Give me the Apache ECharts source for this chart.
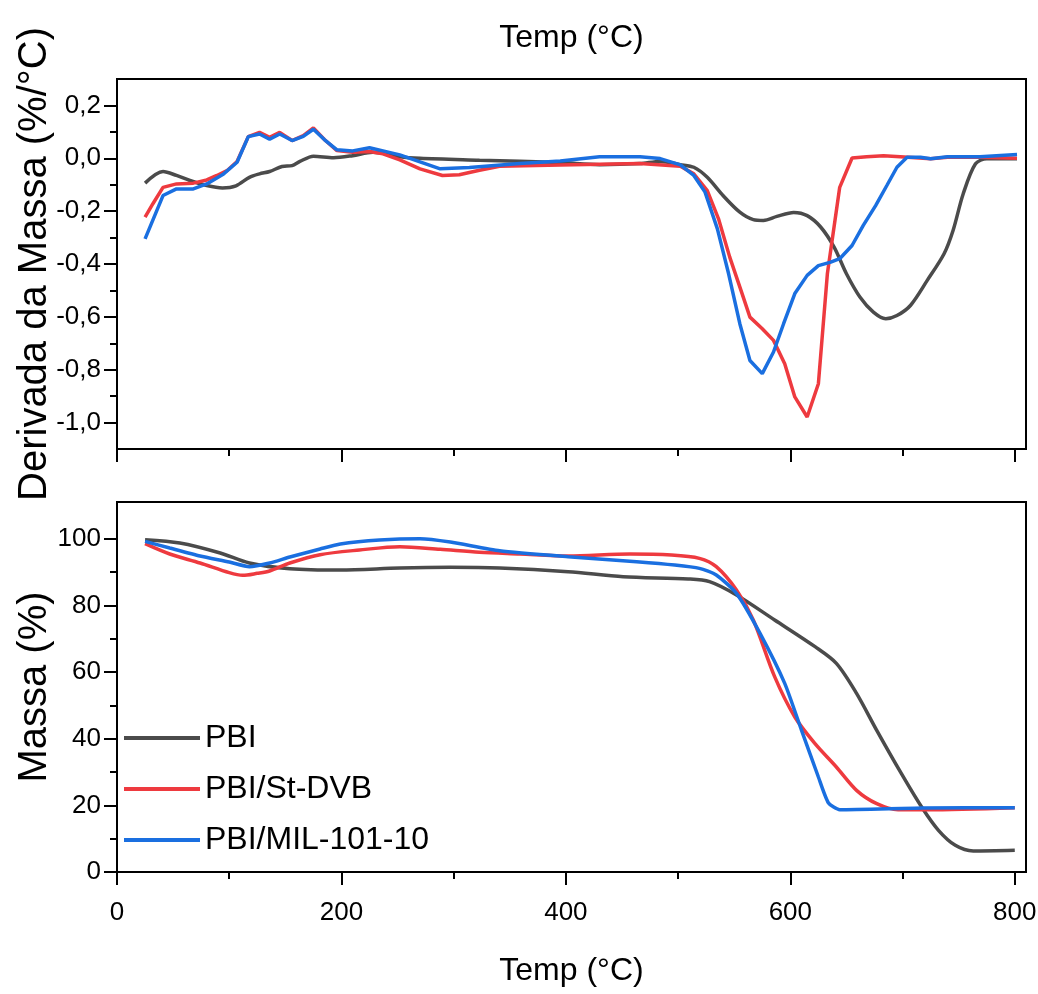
<!DOCTYPE html>
<html>
<head>
<meta charset="UTF-8">
<title>TGA / DTG</title>
<script src="https://cdn.jsdelivr.net/npm/echarts@6/dist/echarts.min.js"></script>
<style>
  html, body { margin: 0; padding: 0; background: #fff; }
  #chart { width: 1038px; height: 994px; }
</style>
</head>
<body>
<div id="chart"></div>
<script>
// series names
var names = ['PBI', 'PBI/St-DVB', 'PBI/MIL-101-10'];
var colors = ['#4b4b4b', '#ee3a3f', '#1a6fe0'];

// DTG (top panel): temperature (°C) and derivative (%/°C)
var dtgTempPBI = [25,41,53,65,80,94,106,118,127,136,147,156,163,175,193,210,228,240,252,270,323,395,430,466,484,502,514,526,540,555,567,576,588,603,615,627,639,650,662,674,685,695,707,722,737,745,754,765,775,802];
var dtgPBI = [-0.094,-0.05,-0.065,-0.084,-0.103,-0.112,-0.104,-0.072,-0.059,-0.05,-0.031,-0.028,-0.012,0.008,0.002,0.01,0.023,0.017,0.006,0.0,-0.007,-0.016,-0.024,-0.02,-0.012,-0.024,-0.034,-0.072,-0.141,-0.204,-0.232,-0.235,-0.22,-0.205,-0.217,-0.26,-0.336,-0.437,-0.525,-0.582,-0.607,-0.595,-0.557,-0.462,-0.361,-0.273,-0.135,-0.021,-0.002,-0.002];

var dtgTempDVB = [25,32,41,53,68,80,89,98,107,117,127,136,145,156,166,175,185,196,210,225,237,252,270,290,305,323,341,395,466,502,514,526,536,546,557,564,575,585,595,604,615,625,633,644,655,668,683,698,725,740,769,802];
var dtgDVB = [-0.223,-0.172,-0.11,-0.097,-0.094,-0.082,-0.065,-0.047,-0.012,0.082,0.098,0.079,0.098,0.067,0.086,0.115,0.07,0.029,0.023,0.026,0.017,-0.006,-0.04,-0.065,-0.062,-0.045,-0.03,-0.025,-0.02,-0.03,-0.059,-0.122,-0.229,-0.374,-0.512,-0.601,-0.645,-0.689,-0.777,-0.903,-0.979,-0.853,-0.437,-0.11,0.001,0.006,0.01,0.006,-0.002,0.004,0.004,0.0];

var dtgTempMIL = [25,41,53,68,80,95,107,117,127,136,145,156,166,175,185,196,210,225,237,252,288,314,359,395,430,466,484,502,514,524,535,545,555,564,575,585,594,604,615,625,636,644,655,665,676,686,695,704,716,725,740,769,802];
var dtgMIL = [-0.305,-0.141,-0.116,-0.116,-0.097,-0.059,-0.015,0.082,0.092,0.072,0.092,0.067,0.083,0.11,0.07,0.032,0.028,0.04,0.028,0.013,-0.04,-0.035,-0.02,-0.01,0.006,0.006,-0.001,-0.025,-0.065,-0.128,-0.267,-0.437,-0.626,-0.765,-0.815,-0.733,-0.626,-0.512,-0.443,-0.406,-0.393,-0.38,-0.33,-0.254,-0.179,-0.103,-0.034,0.004,0.004,-0.002,0.006,0.006,0.014];

// TGA (bottom panel): temperature (°C) and mass (%)
var tgaTempPBI = [25,56,92,118,154,199,252,297,341,402,451,509,528,552,586,622,641,659,677,699,717,732,747,763,800];
var massPBI = [99.7,98.7,95.7,92.7,91.0,90.6,91.2,91.4,91.2,90.1,88.6,87.9,87.1,83.1,75.6,67.6,62.6,53.6,42.5,29.5,19.5,12.5,8.0,6.3,6.5];

var tgaTempDVB = [25,47,74,100,112,125,136,154,181,216,252,288,323,359,402,457,494,519,534,552,567,586,604,622,641,659,677,696,722,800];
var massDVB = [98.5,95.4,92.7,89.8,89.0,89.6,90.3,92.7,95.2,96.6,97.6,96.8,95.9,95.4,94.8,95.4,95.1,94.1,91.6,84.6,75.6,58.6,46.5,38.5,31.5,24.5,20.5,18.7,18.7,19.3];

var tgaTempMIL = [25,47,74,100,118,136,154,181,199,234,270,297,341,402,463,497,519,534,552,573,595,610,625,634,644,718,800];
var massMIL = [99.2,97.2,94.8,93.0,91.6,92.7,94.5,96.9,98.4,99.6,100.0,99.0,96.4,94.6,93.1,92.1,91.1,89.1,83.6,71.6,56.6,42.5,28.5,20.7,18.7,19.2,19.3];

// tick positions
var xMajor = [0, 200, 400, 600, 800];
var xMinor = [100, 300, 500, 700];
var dtgMajor = [-1.0, -0.8, -0.6, -0.4, -0.2, 0.0, 0.2];
var dtgMinor = [-0.9, -0.7, -0.5, -0.3, -0.1, 0.1];
var massMajor = [0, 20, 40, 60, 80, 100];
var massMinor = [10, 30, 50, 70, 90];

function pairs(xs, ys) {
  return xs.map(function (x, i) { return [x, ys[i]]; });
}

var FONT = "'Liberation Sans', Arial, sans-serif";
var black = '#000';

function majorAxis(grid, pos, min, max, ticks, show, fmt) {
  return {
    type: 'value', gridIndex: grid, position: pos, min: min, max: max,
    axisLine: { show: true, onZero: false, lineStyle: { color: black, width: 2 } },
    axisTick: { show: true, inside: false, length: 13, customValues: ticks, lineStyle: { color: black, width: 2 } },
    axisLabel: { show: show, customValues: ticks, color: black, fontSize: 26, fontFamily: FONT, formatter: fmt },
    splitLine: { show: false }
  };
}
function minorAxis(grid, pos, min, max, ticks) {
  return {
    type: 'value', gridIndex: grid, position: pos, min: min, max: max,
    axisLine: { show: false, onZero: false },
    axisTick: { show: true, inside: false, length: 7, customValues: ticks, lineStyle: { color: black, width: 2 } },
    axisLabel: { show: false },
    splitLine: { show: false }
  };
}

var xTop = majorAxis(0, 'bottom', 0, 810, xMajor, false);
var xTopMinor = minorAxis(0, 'bottom', 0, 810, xMinor);
var xTopName = {
  type: 'value', gridIndex: 0, min: 0, max: 810, position: 'top',
  axisLine: { show: false }, axisTick: { show: false }, axisLabel: { show: false }, splitLine: { show: false },
  name: 'Temp (°C)', nameLocation: 'middle', nameGap: 25,
  nameTextStyle: { color: black, fontSize: 32, fontFamily: FONT }
};
var xBot = majorAxis(1, 'bottom', 0, 810, xMajor, true, function (v) { return String(v); });
xBot.axisLabel.margin = 28;
xBot.name = 'Temp (°C)';
xBot.nameLocation = 'middle';
xBot.nameGap = 83;
xBot.nameMoveOverlap = false;
xBot.nameTextStyle = { color: black, fontSize: 32, fontFamily: FONT };
var xBotMinor = minorAxis(1, 'bottom', 0, 810, xMinor);

var yTop = majorAxis(0, 'left', -1.1, 0.3, dtgMajor, true, function (v) { return v.toFixed(1).replace('.', ','); });
yTop.axisLabel.margin = 16;
yTop.name = 'Derivada da Massa (%/°C)';
yTop.nameLocation = 'middle';
yTop.nameGap = 62;
yTop.nameMoveOverlap = false;
yTop.nameTextStyle = { color: black, fontSize: 40, fontFamily: FONT };
var yTopMinor = minorAxis(0, 'left', -1.1, 0.3, dtgMinor);

var yBot = majorAxis(1, 'left', 0, 111, massMajor, true, function (v) { return String(v); });
yBot.axisLabel.margin = 16;
yBot.name = 'Massa (%)';
yBot.nameLocation = 'middle';
yBot.nameGap = 62;
yBot.nameMoveOverlap = false;
yBot.nameTextStyle = { color: black, fontSize: 40, fontFamily: FONT };
var yBotMinor = minorAxis(1, 'left', 0, 111, massMinor);

function line(name, color, data, xi, yi, smooth) {
  return {
    name: name, type: 'line', xAxisIndex: xi, yAxisIndex: yi,
    data: data, symbol: 'none', smooth: smooth,
    lineStyle: { color: color, width: 3.5 }, itemStyle: { color: color }
  };
}

var option = {
  animation: false,
  backgroundColor: '#fff',
  grid: [
    { left: 117, right: 12, top: 79, height: 370, outerBoundsMode: 'none', containLabel: false,
      show: true, borderColor: black, borderWidth: 2, backgroundColor: 'transparent' },
    { left: 117, right: 12, top: 502, height: 370, outerBoundsMode: 'none', containLabel: false,
      show: true, borderColor: black, borderWidth: 2, backgroundColor: 'transparent' }
  ],
  legend: {
    data: names,
    orient: 'vertical',
    left: 119, top: 717,
    icon: 'rect',
    itemWidth: 76, itemHeight: 4, itemGap: 19,
    textStyle: { color: black, fontSize: 32, fontFamily: FONT, lineHeight: 32 }
  },
  xAxis: [xTop, xTopMinor, xTopName, xBot, xBotMinor],
  yAxis: [yTop, yTopMinor, yBot, yBotMinor],
  series: [
    line(names[0], colors[0], pairs(dtgTempPBI, dtgPBI), 0, 0, 0.3),
    line(names[1], colors[1], pairs(dtgTempDVB, dtgDVB), 0, 0, false),
    line(names[2], colors[2], pairs(dtgTempMIL, dtgMIL), 0, 0, false),
    line(names[0], colors[0], pairs(tgaTempPBI, massPBI), 3, 2, 0.3),
    line(names[1], colors[1], pairs(tgaTempDVB, massDVB), 3, 2, 0.3),
    line(names[2], colors[2], pairs(tgaTempMIL, massMIL), 3, 2, 0.2)
  ]
};

var myChart = echarts.init(document.getElementById('chart'));
myChart.setOption(option);
</script>
</body>
</html>
